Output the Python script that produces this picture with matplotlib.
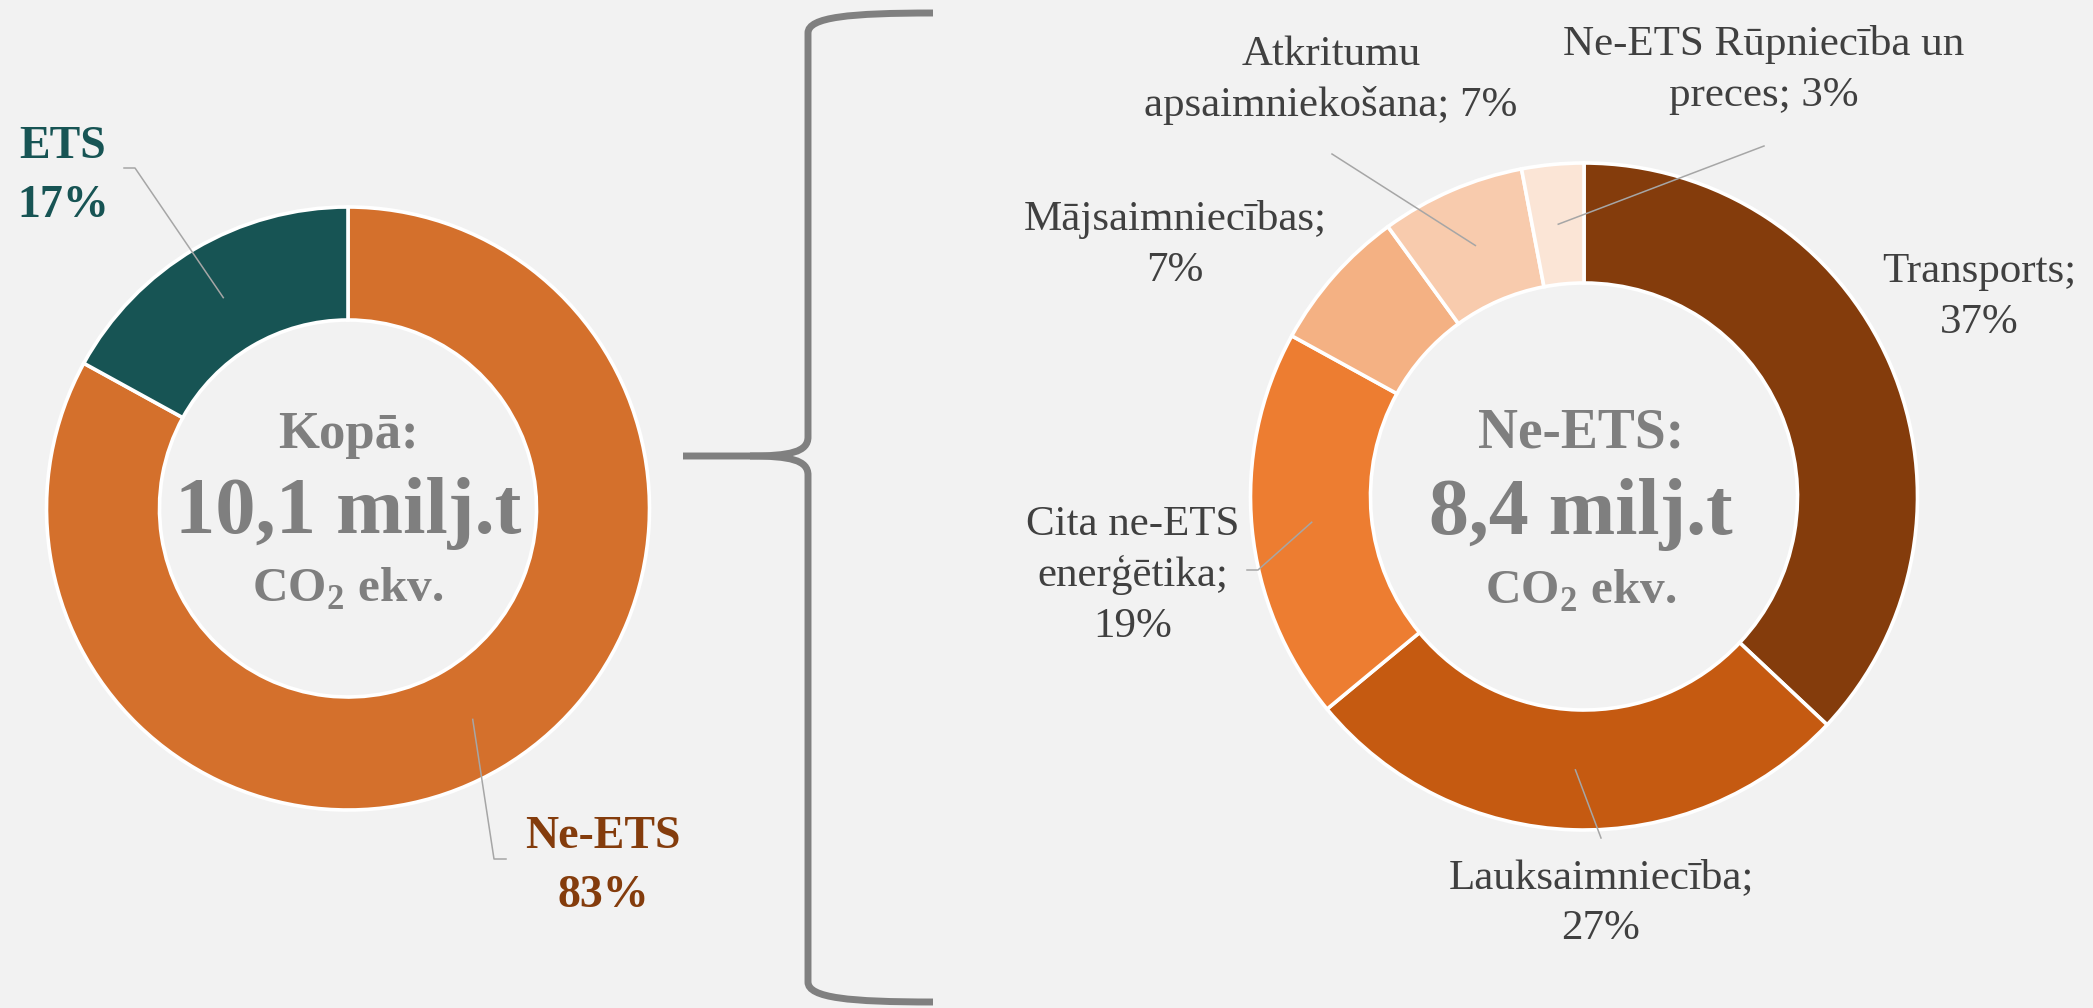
import numpy as np
import matplotlib.pyplot as plt
from matplotlib.path import Path
from matplotlib.patches import PathPatch

plt.rcParams['font.family'] = ['Liberation Serif', 'DejaVu Serif']
plt.rcParams['mathtext.fontset'] = 'custom'
plt.rcParams['mathtext.rm'] = 'Liberation Serif'
plt.rcParams['mathtext.bf'] = 'Liberation Serif:bold'

W, H = 2093, 1008
BG = "#F2F2F2"
GREY = "#7F7F7F"
LEADER = "#A6A6A6"

# left donut: total emissions
total_labels = ["Ne-ETS", "ETS"]
total_shares = [83, 17]
total_colors = ["#D4702C", "#175454"]
total_title = "Kopā:"
total_value = "10,1 milj.t"

# right donut: non-ETS sectors
sector_labels = ["Transports", "Lauksaimniecība", "Cita ne-ETS\nenerģētika",
                 "Mājsaimniecības", "Atkritumu\napsaimniekošana",
                 "Ne-ETS Rūpniecība un\npreces"]
sector_shares = [37, 27, 19, 7, 7, 3]
sector_colors = ["#843C0C", "#C55A11", "#ED7D31", "#F4B183", "#F8CBAD", "#FBE5D6"]
sector_title = "Ne-ETS:"
sector_value = "8,4 milj.t"
sector_sep = ["\n", "\n", "\n", "\n", " ", " "]


def iy(y):
    # image row -> data y
    return H - y


def ring_mid(shares, i, cx, cy, R, r):
    cum = sum(shares[:i]) + shares[i] / 2
    ang = np.deg2rad(90 - 360 * cum / sum(shares))
    rad = (R + r) / 2
    return cx + rad * np.cos(ang), cy + rad * np.sin(ang)


fig = plt.figure(figsize=(W / 100, H / 100), dpi=100, facecolor=BG)
ax = fig.add_axes([0, 0, 1, 1])
ax.set_facecolor(BG)

# --- left donut
lcx, lcy, lR, lr = 348, iy(508.5), 301.5, 188.5
ax.pie(total_shares, colors=total_colors, startangle=90, counterclock=False,
       radius=lR, center=(lcx, lcy),
       wedgeprops=dict(width=lR - lr, edgecolor="white", linewidth=2.6))

# --- right donut
rcx, rcy, rR, rr = 1584, iy(496.5), 333.5, 213.5
ax.pie(sector_shares, colors=sector_colors, startangle=90, counterclock=False,
       radius=rR, center=(rcx, rcy),
       wedgeprops=dict(width=rR - rr, edgecolor="white", linewidth=2.6))

# centre texts
for cx, title, value, ys, sizes in [
        (lcx, total_title, total_value, (448, 533, 602), (38, 58, 35.5)),
        (rcx - 3, sector_title, sector_value, (447, 534, 604), (40, 57.5, 35.5))]:
    ax.text(cx, iy(ys[0]), title, ha="center", va="baseline", color=GREY,
            fontsize=sizes[0], fontweight="bold")
    ax.text(cx, iy(ys[1]), value, ha="center", va="baseline", color=GREY,
            fontsize=sizes[1], fontweight="bold")
    ax.text(cx, iy(ys[2]), r"CO$_\mathbf{2}$ ekv.", ha="center", va="baseline",
            color=GREY, fontsize=sizes[2], fontweight="bold")

# left labels (x, first baseline, leader tail points)
total_layout = [
    (603, 848, [(506, 859), (494, 859)]),
    (63, 158, [(124, 168), (135, 168)]),
]
total_text_colors = ["#843C0C", "#175454"]
for i, (name, share) in enumerate(zip(total_labels, total_shares)):
    x, y0, tail = total_layout[i]
    for k, line in enumerate([name, f"{share}%"]):
        ax.text(x, iy(y0 + k * 59), line, ha="center", va="baseline",
                fontsize=33, fontweight="bold", color=total_text_colors[i])
    mx, my = ring_mid(total_shares, i, lcx, lcy, lR, lr)
    xs = [p[0] for p in tail] + [mx]
    ys = [iy(p[1]) for p in tail] + [my]
    ax.plot(xs, ys, color=LEADER, lw=1.1)

# right labels
sector_layout = [
    (1979, 282, None),
    (1601, 888, [(1601, 838)]),
    (1133, 535, [(1247, 570), (1258, 570)]),
    (1175, 230, None),
    (1331, 65, [(1332, 154)]),
    (1764, 55, [(1764, 146)]),
]
for i, (name, share) in enumerate(zip(sector_labels, sector_shares)):
    x, y0, tail = sector_layout[i]
    txt = f"{name};{sector_sep[i]}{share}%"
    for k, line in enumerate(txt.split("\n")):
        ax.text(x, iy(y0 + k * 51), line, ha="center", va="baseline",
                fontsize=31, color="#404040")
    if tail:
        mx, my = ring_mid(sector_shares, i, rcx, rcy, rR, rr)
        xs = [p[0] for p in tail] + [mx]
        ys = [iy(p[1]) for p in tail] + [my]
        ax.plot(xs, ys, color=LEADER, lw=1.1)

# curly brace between the charts
pts = [(933, 13), (850, 13), (808, 17), (808, 33), (808, 437),
       (808, 452), (790, 456), (750, 456), (683, 456)]
codes = [Path.MOVETO, Path.CURVE4, Path.CURVE4, Path.CURVE4, Path.LINETO,
         Path.CURVE4, Path.CURVE4, Path.CURVE4, Path.LINETO]
low = [(750, 456), (790, 456), (808, 460), (808, 475), (808, 982),
       (808, 998), (850, 1002), (933, 1002)]
low_codes = [Path.MOVETO, Path.CURVE4, Path.CURVE4, Path.CURVE4, Path.LINETO,
             Path.CURVE4, Path.CURVE4, Path.CURVE4]
for p, c in [(pts, codes), (low, low_codes)]:
    path = Path([(x, iy(y)) for x, y in p], c)
    ax.add_patch(PathPatch(path, facecolor="none", edgecolor="#808080",
                           lw=5, capstyle="butt"))

ax.set_xlim(0, W)
ax.set_ylim(0, H)
ax.set_aspect("equal")
ax.axis("off")

fig.savefig("out.png", dpi=100, facecolor=BG)
